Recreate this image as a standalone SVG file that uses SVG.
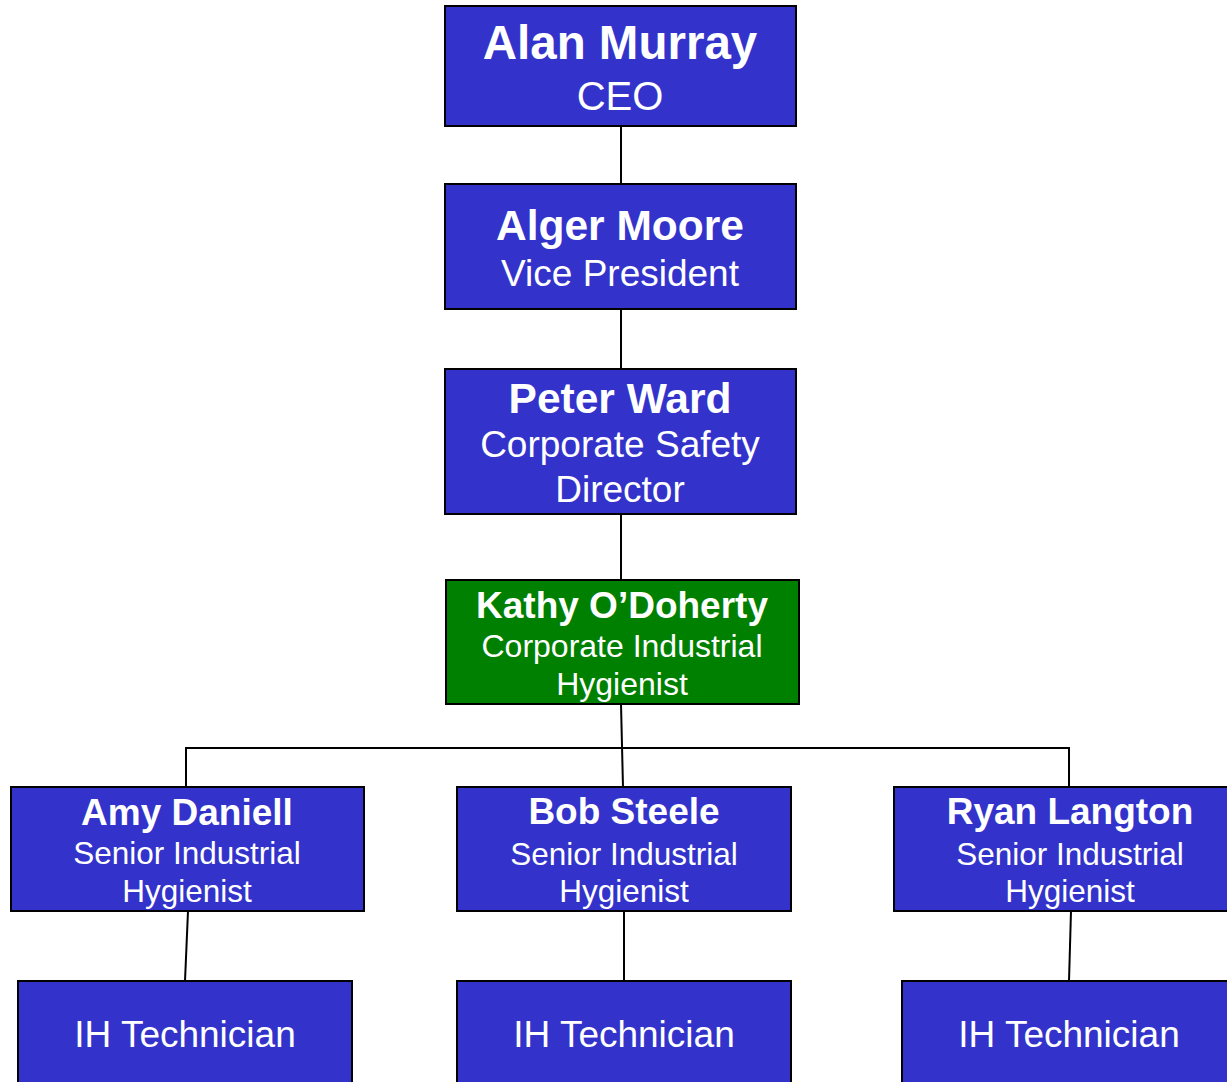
<svg xmlns="http://www.w3.org/2000/svg" width="1227" height="1082" viewBox="0 0 1227 1082">
<style>
.box{fill:#3333CC;stroke:#000;stroke-width:2}
.green{fill:#008000;stroke:#000;stroke-width:2}
.ln{stroke:#000;stroke-width:2;fill:none}
text{font-family:"Liberation Sans",Arial,sans-serif;fill:#fff;text-anchor:middle}
.b{font-weight:bold}
</style>
<rect width="1227" height="1082" fill="#fff"/>
<g id="connectors">
<line class="ln" x1="621" y1="126" x2="621" y2="184"/>
<line class="ln" x1="621" y1="309" x2="621" y2="369"/>
<line class="ln" x1="621" y1="514" x2="621" y2="580"/>
<line class="ln" x1="621" y1="704" x2="623" y2="787"/>
<polyline class="ln" points="186,787 186,748 1070,748"/>
<line class="ln" x1="1069" y1="748" x2="1069" y2="787"/>
<line class="ln" x1="188" y1="911" x2="185" y2="981"/>
<line class="ln" x1="624" y1="911" x2="624" y2="981"/>
<line class="ln" x1="1071" y1="911" x2="1069" y2="981"/>
</g>
<g id="ceo">
<rect class="box" x="445" y="6" width="351" height="120"/>
<text class="b" x="620" y="59" font-size="47.5">Alan Murray</text>
<text x="620" y="110" font-size="40">CEO</text>
</g>
<g id="vp">
<rect class="box" x="445" y="184" width="351" height="125"/>
<text class="b" x="620" y="240" font-size="42.5">Alger Moore</text>
<text x="620" y="286" font-size="37">Vice President</text>
</g>
<g id="director">
<rect class="box" x="445" y="369" width="351" height="145"/>
<text class="b" x="620" y="413" font-size="42.5">Peter Ward</text>
<text x="620" y="457" font-size="37">Corporate Safety</text>
<text x="620" y="502" font-size="37">Director</text>
</g>
<g id="kathy">
<rect class="green" x="446" y="580" width="353" height="124"/>
<text class="b" x="622" y="618" font-size="37">Kathy O’Doherty</text>
<text x="622" y="657" font-size="32">Corporate Industrial</text>
<text x="622" y="695" font-size="32">Hygienist</text>
</g>
<g id="amy">
<rect class="box" x="11" y="787" width="353" height="124"/>
<text class="b" x="187" y="825" font-size="37">Amy Daniell</text>
<text x="187" y="864" font-size="31.5">Senior Industrial</text>
<text x="187" y="902" font-size="31.5">Hygienist</text>
</g>
<g id="bob">
<rect class="box" x="457" y="787" width="334" height="124"/>
<text class="b" x="624" y="824" font-size="37">Bob Steele</text>
<text x="624" y="865" font-size="31.5">Senior Industrial</text>
<text x="624" y="902" font-size="31.5">Hygienist</text>
</g>
<g id="ryan">
<rect class="box" x="894" y="787" width="340" height="124"/>
<text class="b" x="1070" y="824" font-size="37">Ryan Langton</text>
<text x="1070" y="865" font-size="31.5">Senior Industrial</text>
<text x="1070" y="902" font-size="31.5">Hygienist</text>
</g>
<g id="tech1">
<rect class="box" x="18" y="981" width="334" height="110"/>
<text x="185" y="1047" font-size="37">IH Technician</text>
</g>
<g id="tech2">
<rect class="box" x="457" y="981" width="334" height="110"/>
<text x="624" y="1047" font-size="37">IH Technician</text>
</g>
<g id="tech3">
<rect class="box" x="902" y="981" width="340" height="110"/>
<text x="1069" y="1047" font-size="37">IH Technician</text>
</g>
</svg>
